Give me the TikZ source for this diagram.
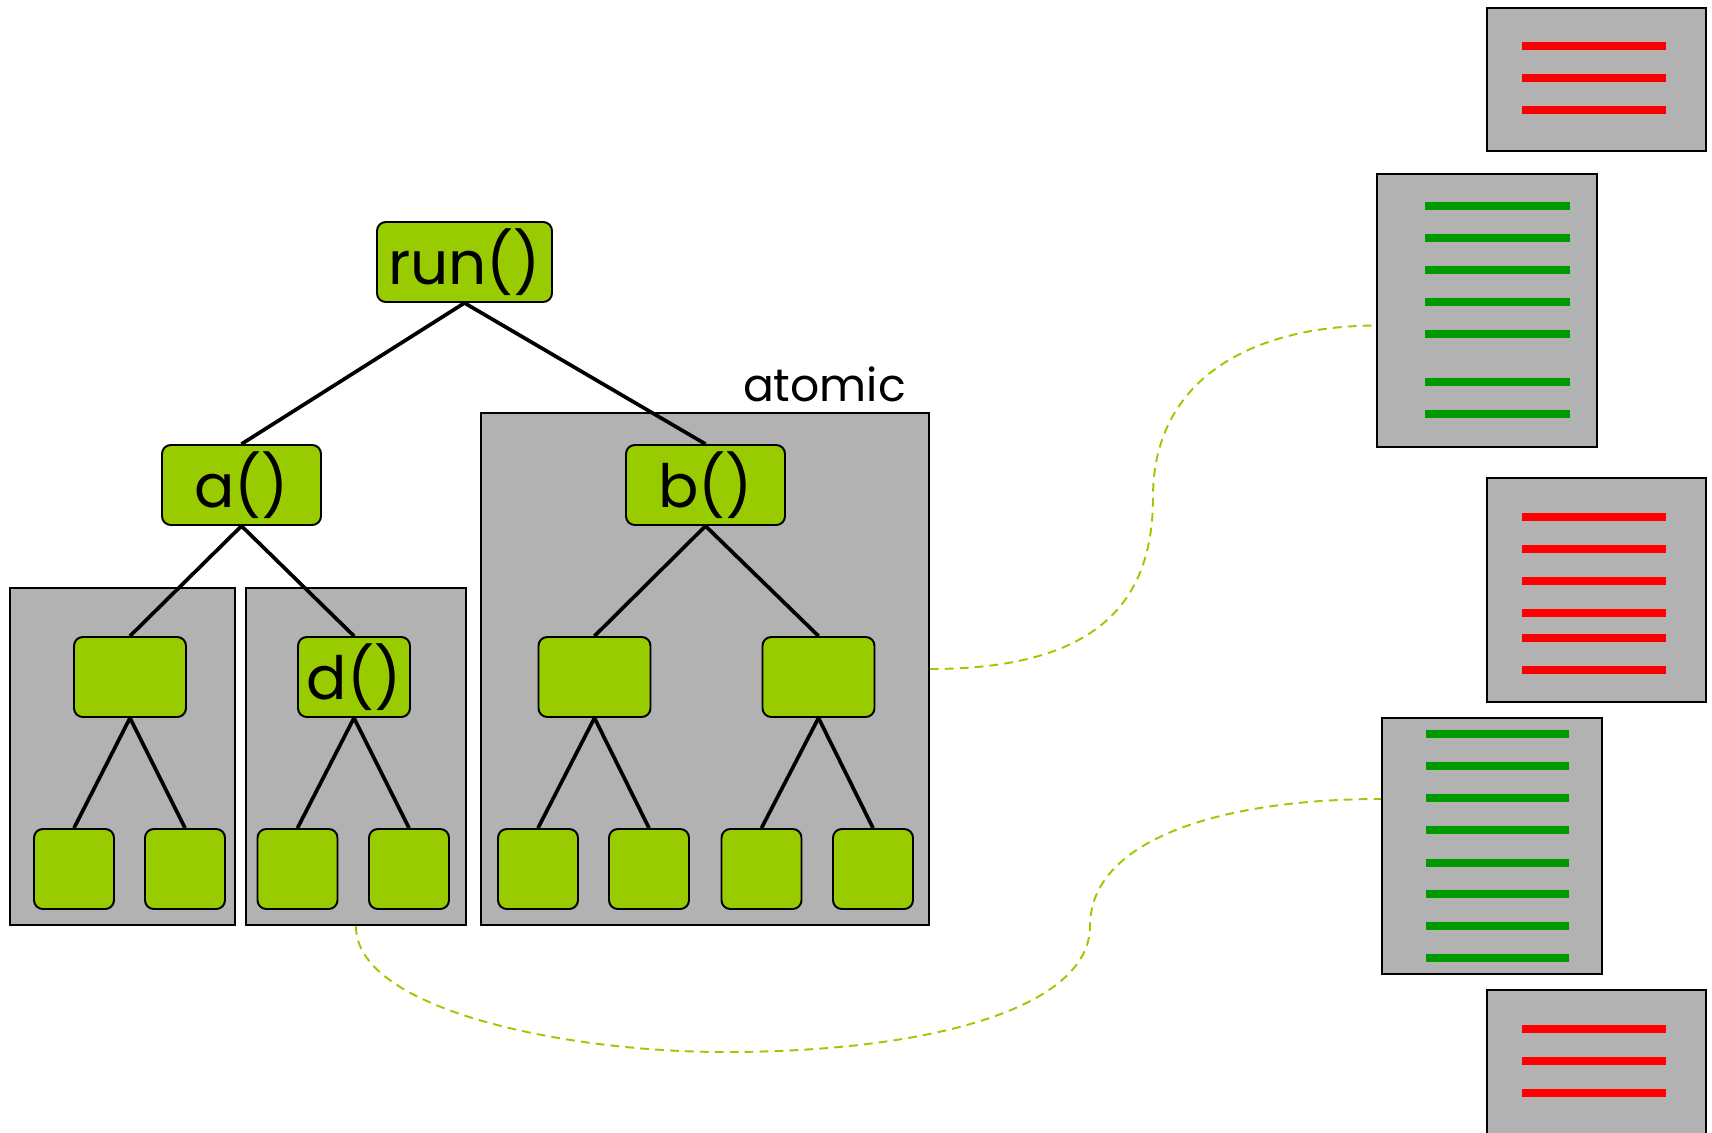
\documentclass[tikz,border=0pt]{standalone}
\usepackage{fontspec}
\setmainfont{Poppins}
\definecolor{nodegreen}{HTML}{99CC00}
\definecolor{boxgray}{HTML}{B2B2B2}
\definecolor{linkgreen}{HTML}{99CC00}
\definecolor{barred}{HTML}{FF0000}
\definecolor{bargreen}{HTML}{009900}
\tikzset{
  fn/.style={draw=black, line width=1.1pt, fill=nodegreen, rounded corners=5pt,
    inner sep=0pt, font=\fontsize{34}{34}\selectfont},
  callbox/.style={fn, minimum width=3.5cm, minimum height=1.6cm},
  subbox/.style={fn, minimum width=3.18cm, minimum height=1.6cm},
  midbox/.style={fn, minimum width=2.24cm, minimum height=1.6cm},
  leafbox/.style={fn, minimum width=1.6cm, minimum height=1.6cm},
  region/.style={draw=black, line width=1.1pt, fill=boxgray, inner sep=0pt},
  treeline/.style={line width=2.1pt},
  link/.style={draw=linkgreen, line width=1.1pt, dash pattern=on 5pt off 3.5pt},
  redbar/.style={draw=barred, line width=4.5pt},
  greenbar/.style={draw=bargreen, line width=4.5pt},
}
\begin{document}
\begin{tikzpicture}[x=0.02cm, y=-0.02cm]
\useasboundingbox (0,0) rectangle (1712,1133);

% grey regions around the subtrees
\node[region, minimum width=4.5cm, minimum height=6.74cm] (box1) at (122.5,756.5) {};
\node[region, minimum width=4.4cm, minimum height=6.74cm] (dbox) at (356,756.5) {};
\node[region, minimum width=8.96cm, minimum height=10.24cm] (atomicbox) at (705,669) {};
\node[anchor=base east, font=\fontsize{26}{26}\selectfont] (atomiclabel) at (912,401) {atomic};

% call tree
\node[callbox] (run) at (464.5,262) {run()};
\node[subbox] (a) at (241.5,485) {a()};
\node[subbox] (b) at (705.5,485) {b()};

\node[midbox] (c1) at (130,677) {};
\node[midbox] (d) at (354,677) {d()};
\node[midbox] (c3) at (594.5,677) {};
\node[midbox] (c4) at (818.5,677) {};

\node[leafbox] (l1) at (74,869) {};
\node[leafbox] (l2) at (185,869) {};
\node[leafbox] (l3) at (297.5,869) {};
\node[leafbox] (l4) at (409,869) {};
\node[leafbox] (l5) at (538,869) {};
\node[leafbox] (l6) at (649,869) {};
\node[leafbox] (l7) at (761.5,869) {};
\node[leafbox] (l8) at (873,869) {};

\foreach \p/\c in {run/a, run/b, a/c1, a/d, b/c3, b/c4,
                   c1/l1, c1/l2, d/l3, d/l4, c3/l5, c3/l6, c4/l7, c4/l8}
  \draw[treeline] (\p.south) -- (\c.north);

% memory blocks on the right
\node[region, minimum width=4.38cm, minimum height=2.86cm] (r1) at (1596.5,79.5) {};
\node[region, minimum width=4.4cm, minimum height=5.46cm] (g1) at (1487,310.5) {};
\node[region, minimum width=4.38cm, minimum height=4.48cm] (r2) at (1596.5,590) {};
\node[region, minimum width=4.4cm, minimum height=5.12cm] (g2) at (1492,846) {};
\node[region, minimum width=4.38cm, minimum height=3.2cm] (r3) at (1596.5,1070) {};

\foreach \y in {46,78,110}
  \draw[redbar] (1522,\y) -- (1666,\y);
\foreach \y in {206,238,270,302,334,382,414}
  \draw[greenbar] (1425,\y) -- (1570,\y);
\foreach \y in {517,549,581,613,638,670}
  \draw[redbar] (1522,\y) -- (1666,\y);
\foreach \y in {734,766,798,830,863,894,926,958}
  \draw[greenbar] (1426,\y) -- (1569,\y);
\foreach \y in {1029,1061,1093}
  \draw[redbar] (1522,\y) -- (1666,\y);

% dashed links from regions to blocks
\draw[link] (atomicbox.east) .. controls (1100,669) and (1153,600) .. (1153,497)
  .. controls (1153,380) and (1250,326) .. ([yshift=-0.3cm]g1.west);
\draw[link] (dbox.south) .. controls (355,1008) and (560,1052) .. (725,1052)
  .. controls (930,1052) and (1090,1008) .. (1090,926)
  .. controls (1090,840) and (1220,799) .. ([yshift=0.94cm]g2.west);
\end{tikzpicture}
\end{document}
